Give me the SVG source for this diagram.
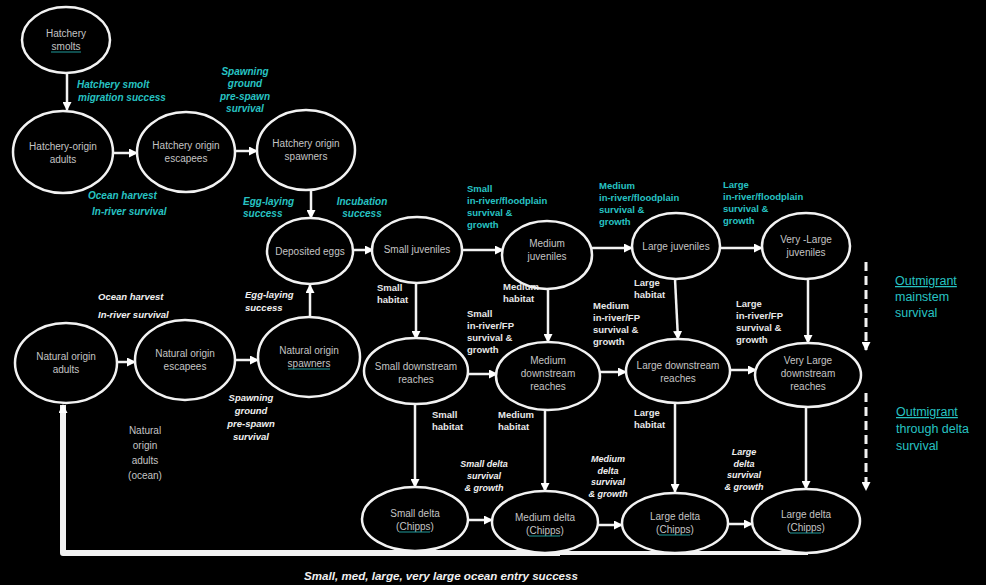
<svg xmlns="http://www.w3.org/2000/svg" width="986" height="585" viewBox="0 0 986 585">
<defs>
<marker id="ah" markerUnits="userSpaceOnUse" markerWidth="9" markerHeight="9" refX="8" refY="4.5" orient="auto">
<path d="M0,0 L9,4.5 L0,9 Z" fill="#ffffff"/>
</marker>
<style>
.n{fill:#000;stroke:#f2f2f2;stroke-width:2.5}
.t{font-family:"Liberation Sans",Arial,sans-serif;font-size:10px;fill:#c4c4c4;text-anchor:middle}
.c{stroke:#f2f2f2;stroke-width:2.5;fill:none;marker-end:url(#ah)}
.ul{stroke:#1f9a9a;stroke-width:1}
.ci{font-family:"Liberation Sans",Arial,sans-serif;font-size:10px;font-weight:bold;font-style:italic;fill:#27c3c3}
.cb{font-family:"Liberation Sans",Arial,sans-serif;font-size:9.5px;font-weight:bold;fill:#27c3c3}
.wi{font-family:"Liberation Sans",Arial,sans-serif;font-size:9.5px;font-weight:bold;font-style:italic;fill:#f0f0f0}
.wd{font-family:"Liberation Sans",Arial,sans-serif;font-size:9px;font-weight:bold;font-style:italic;fill:#f0f0f0;text-anchor:middle}
.wbig{font-family:"Liberation Sans",Arial,sans-serif;font-size:11.6px;font-weight:bold;font-style:italic;fill:#f0f0f0;text-anchor:middle}
.wb{font-family:"Liberation Sans",Arial,sans-serif;font-size:9.5px;font-weight:bold;fill:#e8e8e8}
.o{font-family:"Liberation Sans",Arial,sans-serif;font-size:12.5px;fill:#27c3c3}
</style>
</defs>
<rect width="986" height="585" fill="#000"/>

<g id="connectors">
<line class="c" x1="67" y1="72" x2="67" y2="110"/>
<line class="c" x1="114" y1="153" x2="137" y2="153"/>
<line class="c" x1="236" y1="151" x2="257" y2="151"/>
<line class="c" x1="311" y1="190" x2="311" y2="218"/>
<line class="c" x1="117" y1="362" x2="135" y2="362"/>
<line class="c" x1="235" y1="360" x2="258" y2="360"/>
<line class="c" x1="310" y1="317" x2="310" y2="285"/>
<line class="c" x1="353" y1="250" x2="373" y2="250"/>
<line class="c" x1="462" y1="250" x2="503" y2="250"/>
<line class="c" x1="592" y1="248" x2="632" y2="248"/>
<line class="c" x1="720" y1="248" x2="762" y2="248"/>
<line class="c" x1="416" y1="283" x2="416" y2="339"/>
<line class="c" x1="548" y1="290" x2="548" y2="342"/>
<line class="c" x1="675" y1="279" x2="678" y2="339"/>
<line class="c" x1="808" y1="279" x2="808" y2="343"/>
<line class="c" x1="468" y1="374" x2="497" y2="374"/>
<line class="c" x1="600" y1="372" x2="626" y2="372"/>
<line class="c" x1="730" y1="370" x2="756" y2="370"/>
<line class="c" x1="415" y1="404" x2="415" y2="487"/>
<line class="c" x1="545" y1="409" x2="545" y2="491"/>
<line class="c" x1="675" y1="403" x2="675" y2="492"/>
<line class="c" x1="806" y1="407" x2="806" y2="489"/>
<line class="c" x1="468" y1="520" x2="492" y2="520"/>
<line class="c" x1="598" y1="525" x2="622" y2="525"/>
<line class="c" x1="728" y1="524" x2="752" y2="524"/>
<line x1="866" y1="262" x2="866" y2="350" stroke="#f2f2f2" stroke-width="3" stroke-dasharray="9,5" marker-end="url(#ah)"/>
<line x1="866" y1="393" x2="866" y2="490" stroke="#f2f2f2" stroke-width="3" stroke-dasharray="9,5" marker-end="url(#ah)"/>
<line x1="550" y1="553" x2="808" y2="553" stroke="#f2f2f2" stroke-width="4"/>
<path d="M560,553 L63,553 L63,405" fill="none" stroke="#f2f2f2" stroke-width="6" stroke-linejoin="round" marker-end="url(#ah)"/>
</g>

<g id="hatchery-smolts"><ellipse class="n" cx="66" cy="40" rx="44" ry="33"/><text class="t" x="66" y="37">Hatchery</text><text class="t" x="66" y="50">smolts</text><line class="ul" x1="51" y1="52" x2="81" y2="52"/></g>
<g id="hatchery-origin-adults"><ellipse class="n" cx="63" cy="152" rx="50" ry="41"/><text class="t" x="63" y="150">Hatchery-origin</text><text class="t" x="63" y="163">adults</text></g>
<g id="hatchery-origin-escapees"><ellipse class="n" cx="186" cy="152" rx="49" ry="40"/><text class="t" x="186" y="149">Hatchery origin</text><text class="t" x="186" y="162">escapees</text></g>
<g id="hatchery-origin-spawners"><ellipse class="n" cx="306" cy="150" rx="49" ry="40"/><text class="t" x="306" y="147">Hatchery origin</text><text class="t" x="306" y="160">spawners</text></g>
<g id="deposited-eggs"><ellipse class="n" cx="310" cy="251" rx="43" ry="33"/><text class="t" x="310" y="255">Deposited eggs</text></g>
<g id="small-juveniles"><ellipse class="n" cx="417" cy="250" rx="45" ry="33"/><text class="t" x="417" y="253">Small juveniles</text></g>
<g id="medium-juveniles"><ellipse class="n" cx="547" cy="255" rx="45" ry="34"/><text class="t" x="547" y="247">Medium</text><text class="t" x="547" y="260">juveniles</text></g>
<g id="large-juveniles"><ellipse class="n" cx="676" cy="246" rx="44" ry="33"/><text class="t" x="676" y="250">Large juveniles</text></g>
<g id="very-large-juveniles"><ellipse class="n" cx="806" cy="246" rx="44" ry="33"/><text class="t" x="806" y="243">Very -Large</text><text class="t" x="806" y="256">juveniles</text></g>
<g id="natural-origin-adults"><ellipse class="n" cx="66" cy="363" rx="51" ry="40"/><text class="t" x="66" y="360">Natural origin</text><text class="t" x="66" y="373">adults</text></g>
<g id="natural-origin-escapees"><ellipse class="n" cx="185" cy="360" rx="50" ry="40"/><text class="t" x="185" y="357">Natural origin</text><text class="t" x="185" y="370">escapees</text></g>
<g id="natural-origin-spawners"><ellipse class="n" cx="309" cy="357" rx="51" ry="40"/><text class="t" x="309" y="354">Natural origin</text><text class="t" x="309" y="367">spawners</text><line class="ul" x1="288" y1="369" x2="330" y2="369"/></g>
<g id="small-downstream-reaches"><ellipse class="n" cx="416" cy="371" rx="52" ry="33"/><text class="t" x="416" y="370">Small downstream</text><text class="t" x="416" y="383">reaches</text></g>
<g id="medium-downstream-reaches"><ellipse class="n" cx="548" cy="376" rx="52" ry="34"/><text class="t" x="548" y="364">Medium</text><text class="t" x="548" y="377">downstream</text><text class="t" x="548" y="390">reaches</text></g>
<g id="large-downstream-reaches"><ellipse class="n" cx="678" cy="371" rx="52" ry="32"/><text class="t" x="678" y="369">Large downstream</text><text class="t" x="678" y="382">reaches</text></g>
<g id="very-large-downstream-reaches"><ellipse class="n" cx="808" cy="375" rx="53" ry="32"/><text class="t" x="808" y="364">Very Large</text><text class="t" x="808" y="377">downstream</text><text class="t" x="808" y="390">reaches</text></g>
<g id="small-delta"><ellipse class="n" cx="415" cy="519" rx="53" ry="32"/><text class="t" x="415" y="517">Small delta</text><text class="t" x="415" y="530">(Chipps)</text><line class="ul" x1="399" y1="532" x2="430" y2="532"/></g>
<g id="medium-delta"><ellipse class="n" cx="545" cy="522" rx="53" ry="31"/><text class="t" x="545" y="521">Medium delta</text><text class="t" x="545" y="534">(Chipps)</text><line class="ul" x1="529" y1="536" x2="560" y2="536"/></g>
<g id="large-delta"><ellipse class="n" cx="675" cy="523" rx="53" ry="30"/><text class="t" x="675" y="520">Large delta</text><text class="t" x="675" y="533">(Chipps)</text><line class="ul" x1="659" y1="535" x2="690" y2="535"/></g>
<g id="large-delta-2"><ellipse class="n" cx="806" cy="521" rx="54" ry="32"/><text class="t" x="806" y="518">Large delta</text><text class="t" x="806" y="531">(Chipps)</text><line class="ul" x1="790" y1="533" x2="821" y2="533"/></g>

<g id="labels">
<text class="ci" x="77" y="88">Hatchery smolt</text>
<text class="ci" x="78" y="101">migration success</text>
<text class="ci" text-anchor="middle" x="245" y="75">Spawning</text>
<text class="ci" text-anchor="middle" x="245" y="87">ground</text>
<text class="ci" text-anchor="middle" x="245" y="100">pre-spawn</text>
<text class="ci" text-anchor="middle" x="245" y="112">survival</text>
<text class="ci" x="88" y="199">Ocean harvest</text>
<text class="ci" x="92" y="215">In-river survival</text>
<text class="ci" x="243" y="205">Egg-laying</text>
<text class="ci" x="243" y="217">success</text>
<text class="ci" text-anchor="middle" x="362" y="205">Incubation</text>
<text class="ci" text-anchor="middle" x="362" y="217">success</text>
<text class="cb" x="467" y="192">Small</text>
<text class="cb" x="467" y="204">in-river/floodplain</text>
<text class="cb" x="467" y="216">survival &amp;</text>
<text class="cb" x="467" y="228">growth</text>
<text class="cb" x="599" y="189">Medium</text>
<text class="cb" x="599" y="201">in-river/floodplain</text>
<text class="cb" x="599" y="213">survival &amp;</text>
<text class="cb" x="599" y="225">growth</text>
<text class="cb" x="723" y="188">Large</text>
<text class="cb" x="723" y="200">in-river/floodplain</text>
<text class="cb" x="723" y="212">survival &amp;</text>
<text class="cb" x="723" y="224">growth</text>
<text class="o" x="895" y="285" text-decoration="underline">Outmigrant</text>
<text class="o" x="895" y="301">mainstem</text>
<text class="o" x="895" y="317">survival</text>
<text class="o" x="896" y="416" text-decoration="underline">Outmigrant</text>
<text class="o" x="896" y="433">through delta</text>
<text class="o" x="896" y="450">survival</text>
<text class="wi" x="98" y="300">Ocean harvest</text>
<text class="wi" x="98" y="318">In-river survival</text>
<text class="wi" x="245" y="298">Egg-laying</text>
<text class="wi" x="245" y="311">success</text>
<text class="wi" text-anchor="middle" x="251" y="401">Spawning</text>
<text class="wi" text-anchor="middle" x="251" y="414">ground</text>
<text class="wi" text-anchor="middle" x="251" y="427">pre-spawn</text>
<text class="wi" text-anchor="middle" x="251" y="440">survival</text>
<text class="t" x="145" y="434">Natural</text>
<text class="t" x="145" y="449">origin</text>
<text class="t" x="145" y="464">adults</text>
<text class="t" x="145" y="479">(ocean)</text>
<text class="wb" x="377" y="291">Small</text>
<text class="wb" x="377" y="303">habitat</text>
<text class="wb" x="503" y="290">Medium</text>
<text class="wb" x="503" y="302">habitat</text>
<text class="wb" x="634" y="286">Large</text>
<text class="wb" x="634" y="298">habitat</text>
<text class="wb" x="467" y="317">Small</text>
<text class="wb" x="467" y="329">in-river/FP</text>
<text class="wb" x="467" y="341">survival &amp;</text>
<text class="wb" x="467" y="353">growth</text>
<text class="wb" x="593" y="309">Medium</text>
<text class="wb" x="593" y="321">in-river/FP</text>
<text class="wb" x="593" y="333">survival &amp;</text>
<text class="wb" x="593" y="345">growth</text>
<text class="wb" x="736" y="307">Large</text>
<text class="wb" x="736" y="319">in-river/FP</text>
<text class="wb" x="736" y="331">survival &amp;</text>
<text class="wb" x="736" y="343">growth</text>
<text class="wb" x="432" y="418">Small</text>
<text class="wb" x="432" y="430">habitat</text>
<text class="wb" x="498" y="418">Medium</text>
<text class="wb" x="498" y="430">habitat</text>
<text class="wb" x="634" y="416">Large</text>
<text class="wb" x="634" y="428">habitat</text>
<text class="wd" x="484" y="467">Small delta</text>
<text class="wd" x="484" y="479">survival</text>
<text class="wd" x="484" y="491">&amp; growth</text>
<text class="wd" x="608" y="462">Medium</text>
<text class="wd" x="608" y="474">delta</text>
<text class="wd" x="608" y="485">survival</text>
<text class="wd" x="608" y="497">&amp; growth</text>
<text class="wd" x="744" y="455">Large</text>
<text class="wd" x="744" y="467">delta</text>
<text class="wd" x="744" y="478">survival</text>
<text class="wd" x="744" y="490">&amp; growth</text>
<text class="wbig" x="441" y="580">Small, med, large, very large ocean entry success</text>
</g>
</svg>
